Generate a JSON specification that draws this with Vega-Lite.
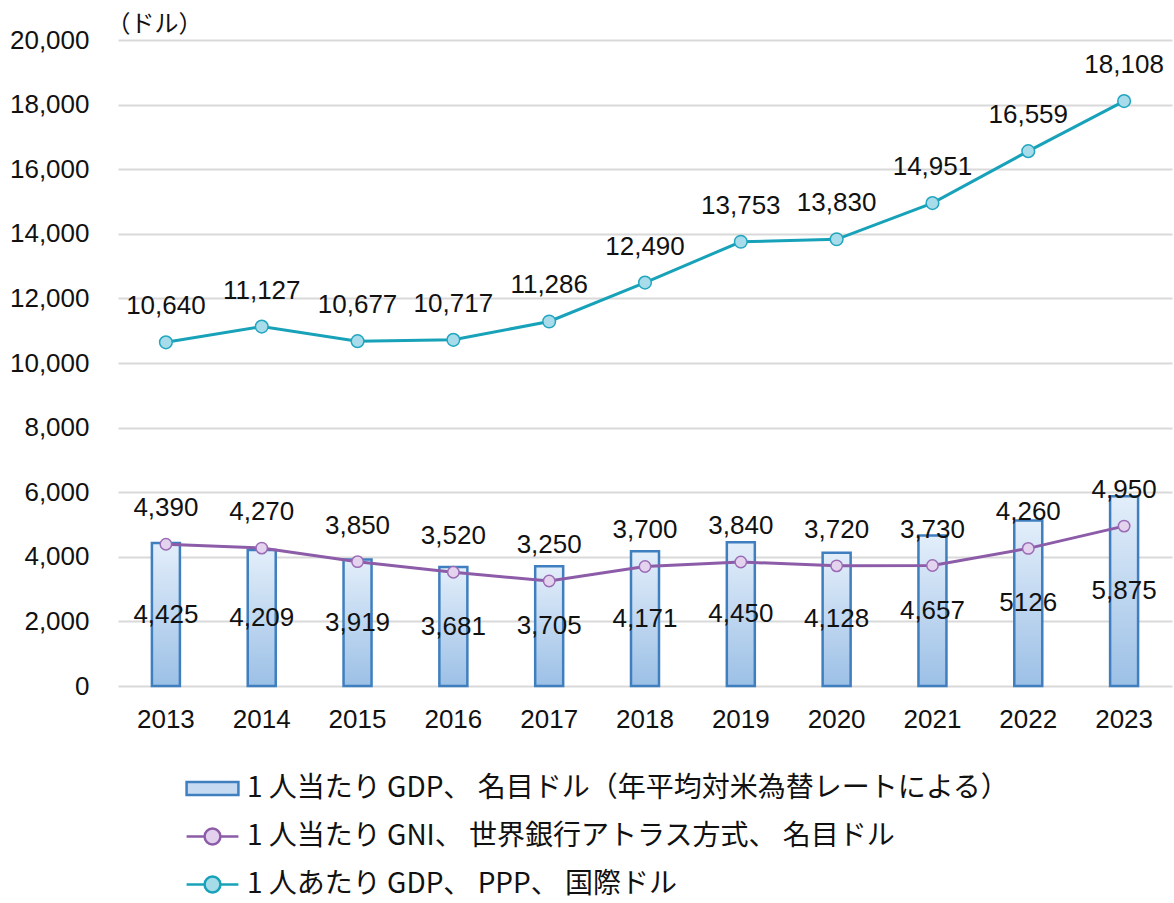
{
  "$schema": "https://vega.github.io/schema/vega-lite/v6.json",
  "width": 1054,
  "height": 646,
  "autosize": {"type": "none"},
  "padding": {"left": 118, "top": 40, "right": 2, "bottom": 217},
  "background": "white",
  "config": {"view": {"stroke": null}, "font": "Liberation Sans"},
  "data": {
    "values": [
      {"year": "2013", "series": "GDP", "value": 4425, "label": "4,425"},
      {"year": "2014", "series": "GDP", "value": 4209, "label": "4,209"},
      {"year": "2015", "series": "GDP", "value": 3919, "label": "3,919"},
      {"year": "2016", "series": "GDP", "value": 3681, "label": "3,681"},
      {"year": "2017", "series": "GDP", "value": 3705, "label": "3,705"},
      {"year": "2018", "series": "GDP", "value": 4171, "label": "4,171"},
      {"year": "2019", "series": "GDP", "value": 4450, "label": "4,450"},
      {"year": "2020", "series": "GDP", "value": 4128, "label": "4,128"},
      {"year": "2021", "series": "GDP", "value": 4657, "label": "4,657"},
      {"year": "2022", "series": "GDP", "value": 5126, "label": "5126"},
      {"year": "2023", "series": "GDP", "value": 5875, "label": "5,875"},
      {"year": "2013", "series": "GNI", "value": 4390, "label": "4,390"},
      {"year": "2014", "series": "GNI", "value": 4270, "label": "4,270"},
      {"year": "2015", "series": "GNI", "value": 3850, "label": "3,850"},
      {"year": "2016", "series": "GNI", "value": 3520, "label": "3,520"},
      {"year": "2017", "series": "GNI", "value": 3250, "label": "3,250"},
      {"year": "2018", "series": "GNI", "value": 3700, "label": "3,700"},
      {"year": "2019", "series": "GNI", "value": 3840, "label": "3,840"},
      {"year": "2020", "series": "GNI", "value": 3720, "label": "3,720"},
      {"year": "2021", "series": "GNI", "value": 3730, "label": "3,730"},
      {"year": "2022", "series": "GNI", "value": 4260, "label": "4,260"},
      {"year": "2023", "series": "GNI", "value": 4950, "label": "4,950"},
      {"year": "2013", "series": "PPP", "value": 10640, "label": "10,640"},
      {"year": "2014", "series": "PPP", "value": 11127, "label": "11,127"},
      {"year": "2015", "series": "PPP", "value": 10677, "label": "10,677"},
      {"year": "2016", "series": "PPP", "value": 10717, "label": "10,717"},
      {"year": "2017", "series": "PPP", "value": 11286, "label": "11,286"},
      {"year": "2018", "series": "PPP", "value": 12490, "label": "12,490"},
      {"year": "2019", "series": "PPP", "value": 13753, "label": "13,753"},
      {"year": "2020", "series": "PPP", "value": 13830, "label": "13,830"},
      {"year": "2021", "series": "PPP", "value": 14951, "label": "14,951"},
      {"year": "2022", "series": "PPP", "value": 16559, "label": "16,559"},
      {"year": "2023", "series": "PPP", "value": 18108, "label": "18,108"}
    ]
  },
  "encoding": {
    "x": {
      "field": "year",
      "type": "ordinal",
      "scale": {"paddingInner": 0, "paddingOuter": 0},
      "axis": {
        "title": null,
        "labelAngle": 0,
        "labelFontSize": 26,
        "labelColor": "#111111",
        "labelPadding": 20,
        "ticks": false,
        "tickSize": 0,
        "domain": false,
        "grid": false
      }
    }
  },
  "resolve": {"scale": {"y": "independent"}},
  "layer": [
    {
      "encoding": {
        "y": {
          "field": "value",
          "type": "quantitative",
          "scale": {"domain": [0, 20000]},
          "axis": {
            "title": "（ドル）",
            "titleAngle": 0,
            "titleAlign": "left",
            "titleBaseline": "middle",
            "titleX": -12,
            "titleY": -16,
            "titleFont": "Noto Sans CJK JP",
            "titleFontSize": 24,
            "titleFontWeight": "normal",
            "titleColor": "#111111",
            "values": [0, 2000, 4000, 6000, 8000, 10000, 12000, 14000, 16000, 18000, 20000],
            "format": ",.0f",
            "labelFontSize": 26,
            "labelColor": "#111111",
            "labelPadding": 29,
            "ticks": false,
            "tickSize": 0,
            "domain": false,
            "grid": true,
            "gridColor": "#d9d9d9",
            "gridWidth": 2
          }
        }
      },
      "layer": [
        {
          "transform": [{"filter": "datum.series === 'GDP'"}],
          "mark": {
            "type": "bar",
            "width": 28,
            "stroke": "#3f7fbf",
            "strokeWidth": 2.5,
            "color": {
              "gradient": "linear",
              "x1": 0, "y1": 0, "x2": 0, "y2": 1,
              "stops": [
                {"offset": 0, "color": "#e3eefa"},
                {"offset": 1, "color": "#9cc0e6"}
              ]
            }
          }
        },
        {
          "transform": [{"filter": "datum.series !== 'GDP'"}],
          "mark": {"type": "line", "strokeWidth": 3},
          "encoding": {
            "color": {
              "field": "series",
              "type": "nominal",
              "scale": {"domain": ["GDP", "GNI", "PPP"], "range": ["#3f7fbf", "#8c5ca8", "#17a2b9"]},
              "legend": {
                "orient": "none",
                "legendX": 69,
                "legendY": 723,
                "direction": "vertical",
                "title": null,
                "padding": 0,
                "symbolSize": 2304,
                "rowPadding": 8,
                "labelFont": "Noto Sans CJK JP",
                "labelFontSize": 28,
                "labelColor": "#111111",
                "labelOffset": 9,
                "labelLimit": 0,
                "labelExpr": "datum.value === 'GDP' ? '1 人当たり GDP、 名目ドル（年平均対米為替レートによる）' : datum.value === 'GNI' ? '1 人当たり GNI、 世界銀行アトラス方式、 名目ドル' : '1 人あたり GDP、 PPP、 国際ドル'",
                "encode": {
                  "symbols": {
                    "update": {
                      "shape": {"signal": "datum.value === 'GDP' ? 'M-1.08,-0.27H1.08V0.27H-1.08Z' : 'M-1.08,0H-0.33M0.33,0H1.08M-0.33,0A0.33,0.33 0 1,0 0.33,0A0.33,0.33 0 1,0 -0.33,0Z'"},
                      "fill": {"signal": "datum.value === 'GDP' ? '#c6dbf2' : datum.value === 'GNI' ? '#e2d0ec' : '#a6dbe8'"},
                      "stroke": {"signal": "datum.value === 'GDP' ? '#3f7fbf' : datum.value === 'GNI' ? '#8c5ca8' : '#17a2b9'"},
                      "strokeWidth": {"value": 2.5},
                      "opacity": {"value": 1},
                      "fillOpacity": {"value": 1}
                    }
                  }
                }
              }
            }
          }
        },
        {
          "transform": [{"filter": "datum.series === 'GNI'"}],
          "mark": {"type": "point", "filled": true, "size": 130, "fill": "#e4d3ee", "stroke": "#9a6cb5", "strokeWidth": 1.5, "opacity": 1}
        },
        {
          "transform": [{"filter": "datum.series === 'PPP'"}],
          "mark": {"type": "point", "filled": true, "size": 160, "fill": "#a8dcea", "stroke": "#22a6c0", "strokeWidth": 1.5, "opacity": 1}
        },
        {
          "transform": [{"filter": "datum.series !== 'GDP'"}],
          "mark": {"type": "text", "dy": -36, "baseline": "middle", "align": "center", "fontSize": 26, "color": "#111111"},
          "encoding": {"text": {"field": "label", "type": "nominal"}}
        }
      ]
    },
    {
      "transform": [{"filter": "datum.series === 'GDP'"}],
      "mark": {"type": "text", "baseline": "middle", "align": "center", "fontSize": 26, "color": "#111111"},
      "encoding": {
        "y": {"field": "value", "type": "quantitative", "scale": {"domain": [0, 40000]}, "axis": null},
        "text": {"field": "label", "type": "nominal"}
      }
    }
  ]
}
